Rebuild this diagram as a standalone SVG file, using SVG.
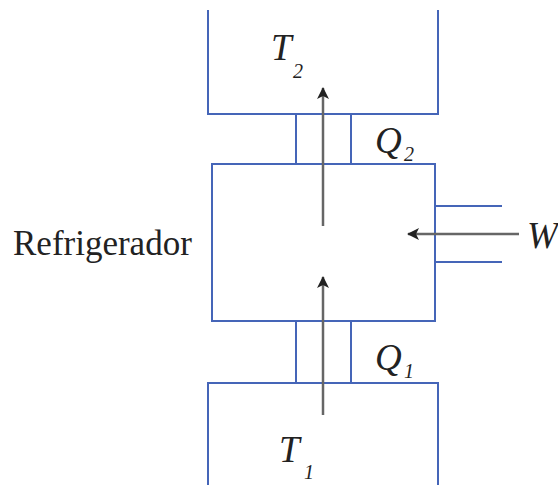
<svg xmlns="http://www.w3.org/2000/svg" width="558" height="485" viewBox="0 0 558 485">
<style>
.b{fill:none;stroke:#4565b8;stroke-width:2}
.a{fill:none;stroke:#666;stroke-width:2.5}
</style>
<defs>
<marker id="ah" viewBox="0 0 12 12" refX="11" refY="6" markerWidth="12" markerHeight="12" markerUnits="userSpaceOnUse" orient="auto">
<path d="M0,0 L12,6 L0,12 L3,6 Z" fill="#222"/>
</marker>
</defs>
<rect width="558" height="485" fill="#fff"/>
<g font-family="Liberation Serif, DejaVu Serif, serif" fill="#222">
<g id="hot">
<path class="b" d="M208,10 V114 H438 V10"/>
<text font-style="italic" x="271" y="60" font-size="37">T</text>
<text font-style="italic" x="293" y="78" font-size="20">2</text>
</g>
<g id="link-top">
<path class="b" d="M296,114 V164 M351,114 V164"/>
<text font-style="italic" x="375" y="153" font-size="37">Q</text>
<text font-style="italic" x="404" y="161" font-size="20">2</text>
</g>
<g id="refrigerador">
<rect class="b" x="212" y="164" width="223" height="157"/>
<path class="b" d="M435,206 H502 M435,262 H502"/>
<text x="13" y="255" font-size="35">Refrigerador</text>
<text font-style="italic" x="527" y="248" font-size="37">W</text>
</g>
<g id="link-bottom">
<path class="b" d="M296,321 V383 M351,321 V383"/>
<text font-style="italic" x="375" y="370" font-size="37">Q</text>
<text font-style="italic" x="404" y="378" font-size="20">1</text>
</g>
<g id="cold">
<path class="b" d="M208,485 V383 H438 V485"/>
<text font-style="italic" x="279" y="462" font-size="37">T</text>
<text font-style="italic" x="304" y="479" font-size="20">1</text>
</g>
</g>
<g id="connectors">
<line class="a" x1="323" y1="226" x2="323" y2="88" marker-end="url(#ah)"/>
<line class="a" x1="323" y1="415" x2="323" y2="277" marker-end="url(#ah)"/>
<line class="a" x1="519" y1="234" x2="408" y2="234" marker-end="url(#ah)"/>
</g>
</svg>
